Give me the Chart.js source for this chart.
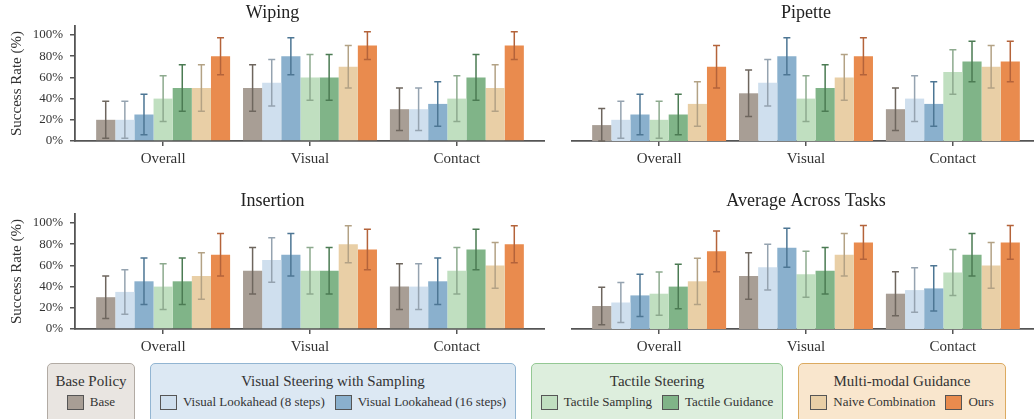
<!DOCTYPE html>
<html>
<head>
<meta charset="utf-8">
<script src="https://cdn.jsdelivr.net/npm/chart.js@4.4.1/dist/chart.umd.min.js"></script>
<style>
  html, body { margin: 0; padding: 0; width: 1034px; height: 419px; overflow: hidden; background: #fff; }
  body { position: relative; font-family: "Liberation Serif", "DejaVu Serif", serif; color: #333; }
  canvas.panel { position: absolute; }
  .group { position: absolute; top: 363px; height: 80px; box-sizing: border-box; border: 1.5px solid; border-radius: 5px; text-align: center; }
  .group .head { font-size: 15px; line-height: 18px; margin-top: 8px; color: #333; }
  .group .row { display: flex; justify-content: center; align-items: center; margin-top: 3px; font-size: 13px; line-height: 18px; color: #333; }
  .item { display: flex; align-items: center; margin: 0 5px; white-space: nowrap; }
  .sw { width: 17px; height: 15px; border: 1px solid #555; box-sizing: border-box; margin-right: 6px; }
</style>
</head>
<body>
<canvas id="wiping" class="panel"></canvas>
<canvas id="pipette" class="panel"></canvas>
<canvas id="insertion" class="panel"></canvas>
<canvas id="average" class="panel"></canvas>

<div class="group" style="left:47px;width:88px;background:#e9e5e1;border-color:#b2aba4;">
  <div class="head">Base Policy</div>
  <div class="row"><span class="item"><span class="sw" style="background:#a89e95"></span>Base</span></div>
</div>
<div class="group" style="left:150px;width:366px;background:#dce8f3;border-color:#92b5d2;">
  <div class="head">Visual Steering with Sampling</div>
  <div class="row">
    <span class="item"><span class="sw" style="background:#cfdfee"></span>Visual Lookahead (8 steps)</span>
    <span class="item"><span class="sw" style="background:#8ab0cd"></span>Visual Lookahead (16 steps)</span>
  </div>
</div>
<div class="group" style="left:531px;width:252px;background:#ddeedd;border-color:#94c894;">
  <div class="head">Tactile Steering</div>
  <div class="row">
    <span class="item"><span class="sw" style="background:#c0dfc0"></span>Tactile Sampling</span>
    <span class="item"><span class="sw" style="background:#80b488"></span>Tactile Guidance</span>
  </div>
</div>
<div class="group" style="left:798px;width:208px;background:#f9e6cd;border-color:#dcaa60;">
  <div class="head">Multi-modal Guidance</div>
  <div class="row">
    <span class="item"><span class="sw" style="background:#e9cfa6"></span>Naive Combination</span>
    <span class="item"><span class="sw" style="background:#e98b4e"></span>Ours</span>
  </div>
</div>

<script>
// categories on the x axis, one bar per method inside each category
const categories = ['Overall', 'Visual', 'Contact'];
const methods = ['Base', 'Visual Lookahead (8 steps)', 'Visual Lookahead (16 steps)',
  'Tactile Sampling', 'Tactile Guidance', 'Naive Combination', 'Ours'];
const yTicks = [0, 20, 40, 60, 80, 100];

// success rate (%) per method (rows) and category (columns)
const wipingRate = [[20, 50, 30], [20, 55, 30], [25, 80, 35], [40, 60, 40], [50, 60, 60], [50, 70, 50], [80, 90, 90]];
const wipingErr = [[17.5, 22, 20], [17.5, 22, 20], [19, 17.5, 21], [21.5, 21.5, 21.5], [22, 21.5, 21.5], [22, 20, 22], [17.5, 13, 13]];

const pipetteRate = [[15, 45, 30], [20, 55, 40], [25, 80, 35], [20, 40, 65], [25, 50, 75], [35, 60, 70], [70, 80, 75]];
const pipetteErr = [[15.6, 22, 20], [17.5, 22, 21.5], [19, 17.5, 21], [17.5, 21.5, 21], [19, 22, 19], [21, 21.5, 20], [20, 17.5, 19]];

const insertionRate = [[30, 55, 40], [35, 65, 40], [45, 70, 45], [40, 55, 55], [45, 55, 75], [50, 80, 60], [70, 75, 80]];
const insertionErr = [[20, 22, 21.5], [21, 21, 21.5], [22, 20, 22], [21.5, 22, 22], [22, 22, 19], [22, 17.5, 21.5], [20, 19, 17.5]];

const averageRate = [[21.7, 50, 33.3], [25, 58.3, 36.7], [31.7, 76.7, 38.3], [33.3, 51.7, 53.3], [40, 55, 70], [45, 70, 60], [73.3, 81.7, 81.7]];
const averageErr = [[17.7, 22, 20.8], [18.8, 21.6, 21], [20, 18.4, 21.3], [20.4, 21.7, 21.7], [21, 22, 20], [21.8, 20, 21.5], [19.2, 16, 16]];

const barColors = ['#a89e95', '#cfdfee', '#8ab0cd', '#c0dfc0', '#80b488', '#e9cfa6', '#e98b4e'];
const errColors = ['#6e665e', '#95a3b0', '#4d7694', '#8daa8e', '#4b7b53', '#b3a285', '#b4633a'];

const FONT = '"Liberation Serif", "DejaVu Serif", serif';
const AXIS = '#555';

// draws the error bars on top of each bar
const errorBarPlugin = {
  id: 'errorBars',
  afterDatasetsDraw(chart) {
    const ctx = chart.ctx;
    const yScale = chart.scales.y;
    chart.data.datasets.forEach((ds, i) => {
      const meta = chart.getDatasetMeta(i);
      meta.data.forEach((bar, j) => {
        const v = ds.data[j].y;
        const e = ds.errors[j];
        const top = yScale.getPixelForValue(v + e);
        const bot = yScale.getPixelForValue(Math.max(v - e, 0));
        ctx.save();
        ctx.strokeStyle = ds.errColor;
        ctx.lineWidth = 1.5;
        ctx.beginPath();
        ctx.moveTo(bar.x, top); ctx.lineTo(bar.x, bot);
        ctx.moveTo(bar.x - 3.5, top); ctx.lineTo(bar.x + 3.5, top);
        ctx.moveTo(bar.x - 3.5, bot); ctx.lineTo(bar.x + 3.5, bot);
        ctx.stroke();
        ctx.restore();
      });
    });
  }
};

const panels = [
  { id: 'wiping', title: 'Wiping', rate: wipingRate, err: wipingErr, left: 0, top: 0, showY: true },
  { id: 'pipette', title: 'Pipette', rate: pipetteRate, err: pipetteErr, left: 571, top: 0, showY: false },
  { id: 'insertion', title: 'Insertion', rate: insertionRate, err: insertionErr, left: 0, top: 188, showY: true },
  { id: 'average', title: 'Average Across Tasks', rate: averageRate, err: averageErr, left: 571, top: 188, showY: false }
];

function makePanel(p) {
  const canvas = document.getElementById(p.id);
  const w = p.showY ? 545 : 470;
  const h = 171;
  canvas.width = w;
  canvas.height = h;
  canvas.style.width = w + 'px';
  canvas.style.height = h + 'px';
  canvas.style.left = p.left + 'px';
  canvas.style.top = p.top + 'px';

  const datasets = methods.map((m, i) => ({
    label: m,
    data: categories.map((c, j) => ({ x: j, y: p.rate[i][j] })),
    errors: p.err[i],
    errColor: errColors[i],
    backgroundColor: barColors[i],
    borderWidth: 0,
    categoryPercentage: 0.912,
    barPercentage: 1
  }));

  return new Chart(canvas.getContext('2d'), {
    type: 'bar',
    data: { datasets },
    options: {
      responsive: false,
      animation: false,
      layout: { padding: 0 },
      plugins: {
        legend: { display: false },
        tooltip: { enabled: false },
        title: {
          display: true,
          text: p.title,
          color: '#222',
          font: { family: FONT, size: 18, weight: 'normal' },
          padding: { top: 2, bottom: 2.4 }
        }
      },
      scales: {
        x: {
          type: 'linear',
          min: -0.6,
          max: 2.6,
          offset: false,
          afterBuildTicks: s => { s.ticks = categories.map((c, j) => ({ value: j })); },
          afterFit: s => { s.height = 30; },
          ticks: {
            callback: v => categories[v],
            autoSkip: false,
            maxRotation: 0,
            padding: 4,
            color: '#333',
            font: { family: FONT, size: 15 }
          },
          grid: { display: true, offset: false, drawOnChartArea: false, drawTicks: true, tickLength: 5, color: AXIS, lineWidth: 1.5 },
          border: { display: true, color: AXIS, width: 1.8 }
        },
        y: {
          display: p.showY,
          min: 0,
          max: 108.5,
          afterBuildTicks: s => { s.ticks = yTicks.map(v => ({ value: v })); },
          afterFit: s => { if (p.showY) s.width = 75; },
          ticks: {
            callback: v => v + '%',
            padding: 7,
            color: '#333',
            font: { family: FONT, size: 13 }
          },
          grid: { display: true, drawOnChartArea: false, drawTicks: true, tickLength: 5, color: AXIS, lineWidth: 1.5 },
          border: { display: true, color: AXIS, width: 1.8 },
          title: {
            display: true,
            text: 'Success Rate (%)',
            color: '#333',
            font: { family: FONT, size: 15 },
            padding: { top: 8, bottom: 0 }
          }
        }
      }
    },
    plugins: [errorBarPlugin]
  });
}

panels.forEach(makePanel);
</script>
</body>
</html>
